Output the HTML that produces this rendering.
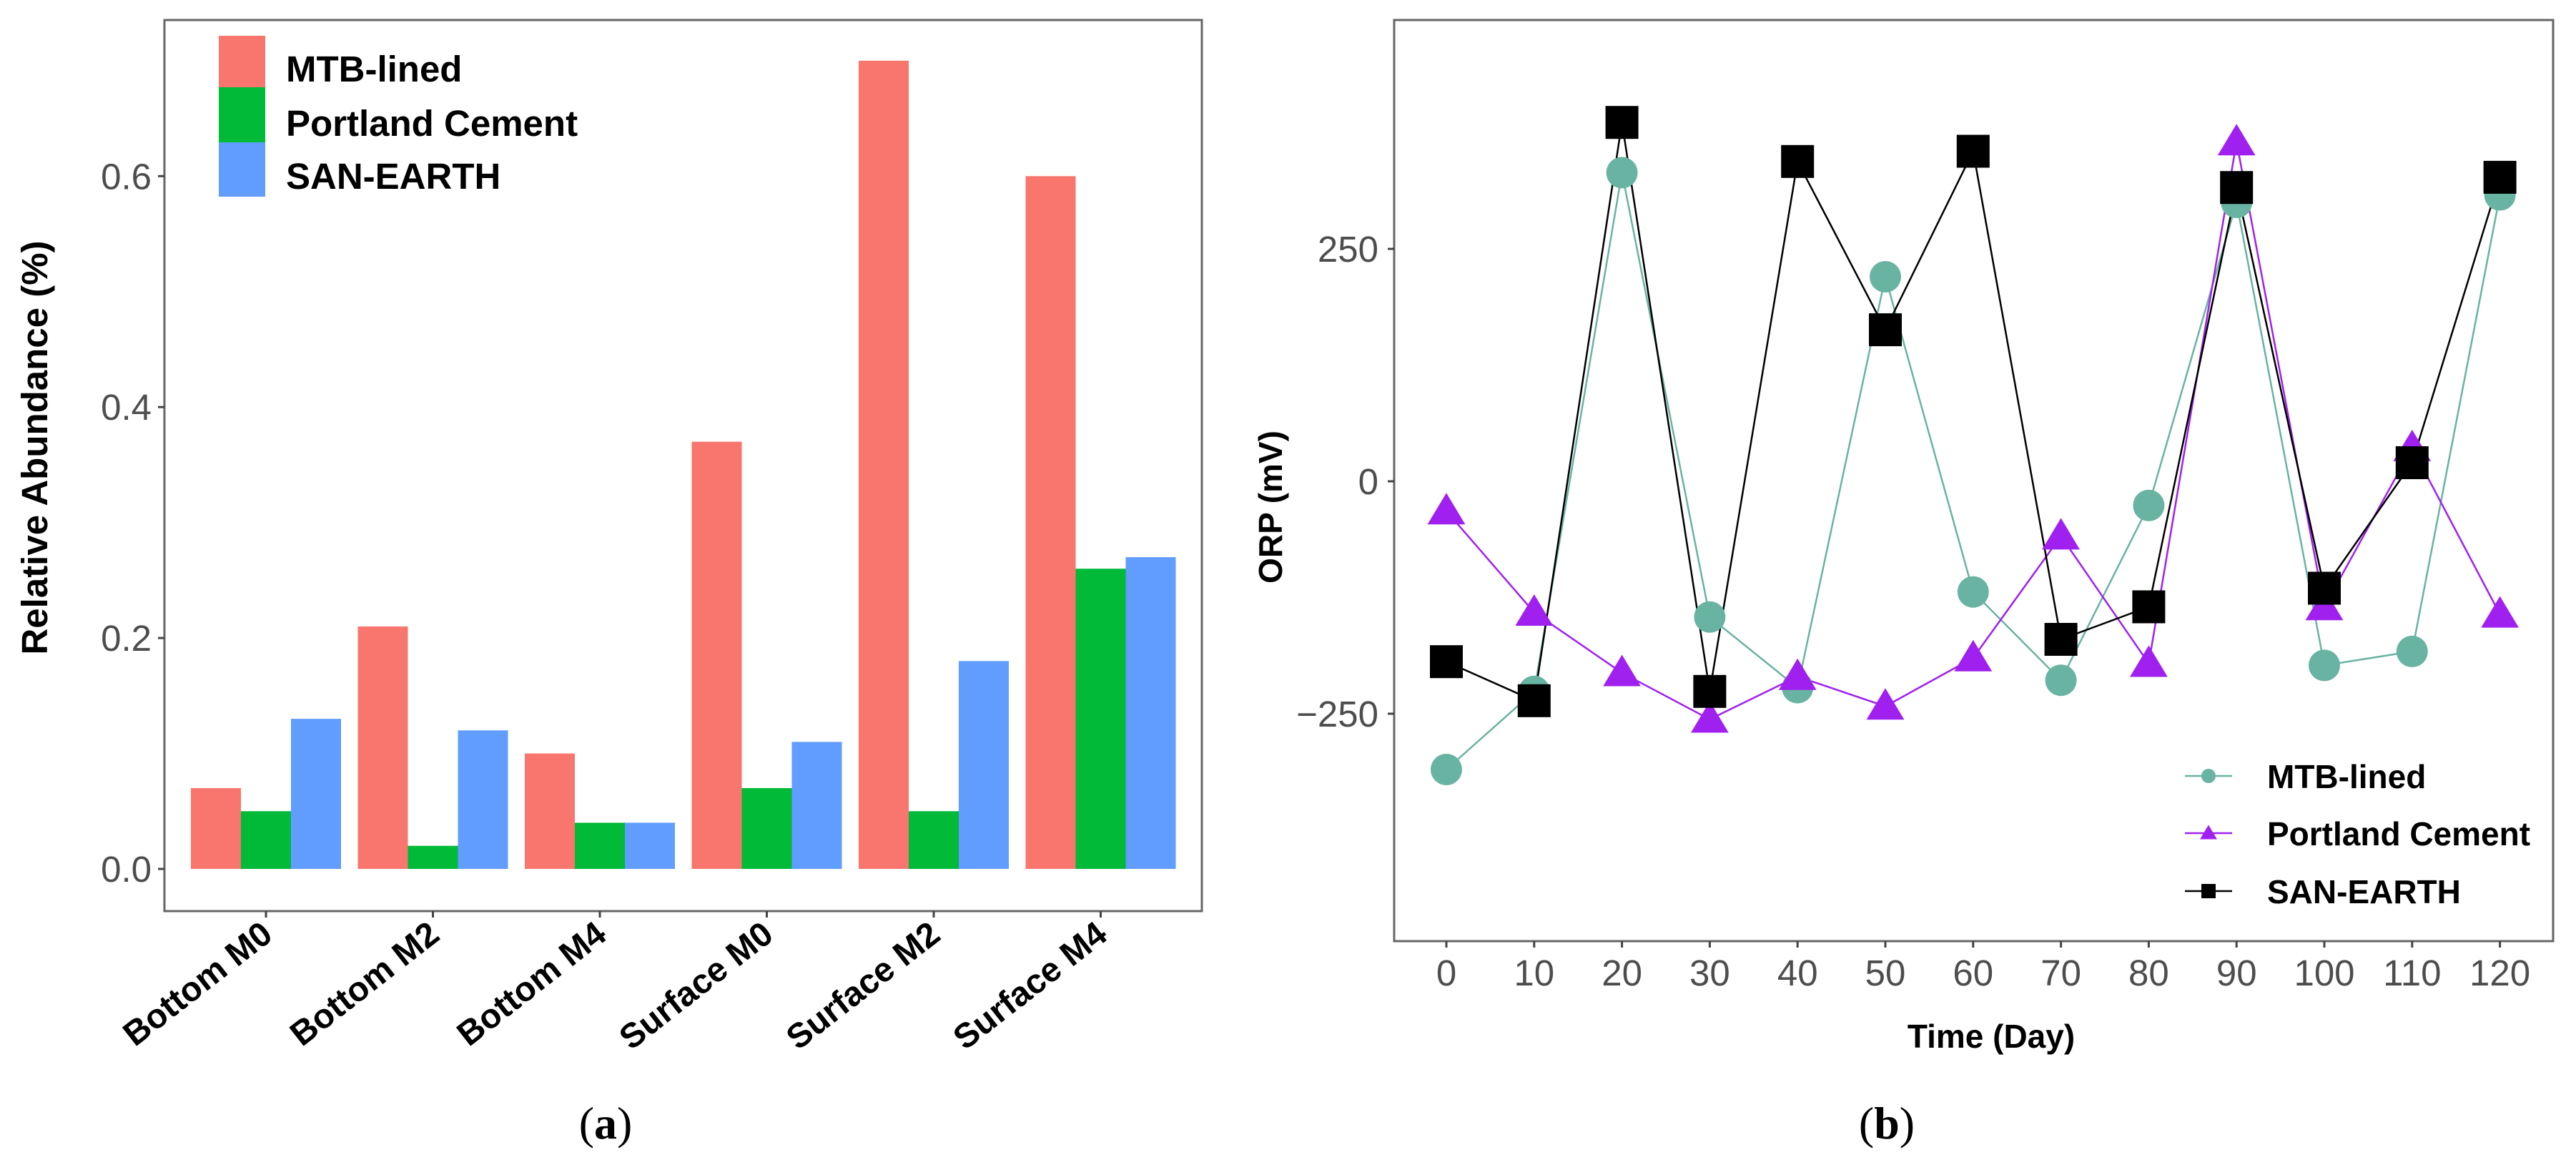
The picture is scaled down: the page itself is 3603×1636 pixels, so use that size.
<!DOCTYPE html>
<html><head><meta charset="utf-8"><style>
html,body{margin:0;padding:0;background:#fff;}
svg{display:block;font-family:"Liberation Sans",Arial,sans-serif;}
</style></head><body>
<svg id="fig" width="3603" height="1636" viewBox="0 0 3603 1636" xmlns="http://www.w3.org/2000/svg">
<g id="left"></g>
<g id="right"></g>
</svg>
<script>
const barCategories = ["Bottom M0","Bottom M2","Bottom M4","Surface M0","Surface M2","Surface M4"];
const barMTB = [0.07,0.21,0.10,0.37,0.70,0.60];
const barPortland = [0.05,0.02,0.04,0.07,0.05,0.26];
const barSan = [0.13,0.12,0.04,0.11,0.18,0.27];
const barYTicks = [0.0,0.2,0.4,0.6];
const seriesNames = ["MTB-lined","Portland Cement","SAN-EARTH"];

const days = [0,10,20,30,40,50,60,70,80,90,100,110,120];
const orpMTB = [-310,-226,332,-146,-222,220,-119,-214,-26,300,-198,-183,308];
const orpPortland = [-32,-141,-206,-256,-210,-242,-190,-59,-196,365,-135,36,-143];
const orpSan = [-194,-236,386,-226,344,163,355,-170,-135,316,-115,20,327];
const orpYTicks = [-250,0,250];

const NS="http://www.w3.org/2000/svg";
function mk(parent, tag, attrs, text){
  const e=document.createElementNS(NS,tag);
  for(const k in attrs) e.setAttribute(k,attrs[k]);
  if(text!==undefined) e.textContent=text;
  parent.appendChild(e); return e;
}
const L=document.getElementById('left');
const R=document.getElementById('right');

/* ---------- left bar chart ---------- */
const lx0=230,lx1=1681,ly0=28,ly1=1274;
const by = v => 1215 - v*1614.5;
const bx = i => 372 + i*233.5;
const barW = 70;
const barColors=["#F8766D","#00BA38","#619CFF"];
const barSeries=[barMTB,barPortland,barSan];
barSeries.forEach((s,si)=>{
  s.forEach((v,i)=>{
    const r=mk(L,'rect',{x:bx(i)-105+si*barW,y:by(v),width:barW,height:by(0)-by(v),fill:barColors[si]});
    
    
  });
});
const lb=mk(L,'rect',{x:lx0,y:ly0,width:lx1-lx0,height:ly1-ly0,fill:'none',stroke:'#666',"stroke-width":3});


barYTicks.forEach(t=>{
  const tk=mk(L,'line',{x1:lx0-9,x2:lx0,y1:by(t),y2:by(t),stroke:'#444',"stroke-width":3});
  
  
  const tl=mk(L,'text',{x:lx0-18,y:by(t)+18,"text-anchor":"end","font-size":51,fill:'#4d4d4d'},t.toFixed(1));
  
  
});
barCategories.forEach((c,i)=>{
  const tk=mk(L,'line',{x1:bx(i),x2:bx(i),y1:ly1,y2:ly1+9,stroke:'#444',"stroke-width":3});
  
  
  const tl=mk(L,'text',{x:0,y:0,"text-anchor":"end","font-size":48,"font-weight":"bold",fill:'#000',transform:`translate(${bx(i)+12},${ly1+38}) rotate(-38)`},c);
  
  
});
const lyt=mk(L,'text',{x:0,y:0,"text-anchor":"middle","font-size":51,"font-weight":"bold",transform:"translate(66,626) rotate(-90)"},"Relative Abundance (%)");


const legYs=[[50,122],[122,199],[199,275]];
const legTxtY=[96,172,246];
seriesNames.forEach((n,i)=>{
  const k=mk(L,'rect',{x:306,y:legYs[i][0],width:65,height:legYs[i][1]-legYs[i][0],fill:barColors[i]});
  
  
  const t=mk(L,'text',{x:400,y:legTxtY[i]+18,"font-size":51,"font-weight":"bold"},n);
  
  
});
const la=mk(L,'text',{x:847,y:1592,"text-anchor":"middle","font-size":64,"font-family":"Liberation Serif, serif"},"");


mk(la,'tspan',{},"(");mk(la,'tspan',{"font-weight":"bold"},"a");mk(la,'tspan',{},")");

/* ---------- right line chart ---------- */
const rx0=1950,rx1=3571,ry0=28,ry1=1316;
const ox = d => 2023 + d*12.28;
const oy = v => 673 - v*1.3;
const rb=mk(R,'rect',{x:rx0,y:ry0,width:rx1-rx0,height:ry1-ry0,fill:'none',stroke:'#666',"stroke-width":3});


orpYTicks.forEach(t=>{
  const tk=mk(R,'line',{x1:rx0-9,x2:rx0,y1:oy(t),y2:oy(t),stroke:'#444',"stroke-width":3});
  
  
  const tl=mk(R,'text',{x:rx0-22,y:oy(t)+18,"text-anchor":"end","font-size":51,fill:'#4d4d4d'},t<0?'\u2212'+(-t):String(t));
  
  
});
days.forEach(d=>{
  const tk=mk(R,'line',{x1:ox(d),x2:ox(d),y1:ry1,y2:ry1+9,stroke:'#444',"stroke-width":3});
  
  
  const tl=mk(R,'text',{x:ox(d),y:1378,"text-anchor":"middle","font-size":51,fill:'#4d4d4d'},String(d));
  
  
});
const xt=mk(R,'text',{x:2785,y:1465,"text-anchor":"middle","font-size":46,"font-weight":"bold"},"Time (Day)");


const yt=mk(R,'text',{x:0,y:0,"text-anchor":"middle","font-size":46,"font-weight":"bold",transform:"translate(1793,709) rotate(-90)"},"ORP (mV)");



const lineColors=["#69b3a2","#a020f0","#000"];
function marker(g,shape,x,y,s,col){
  let m;
  if(shape==='circle') m=mk(g,'circle',{cx:x,cy:y,r:s,fill:col});
  else if(shape==='tri') m=mk(g,'polygon',{points:`${x},${y-s*1.15} ${x-s*1.2},${y+s*0.85} ${x+s*1.2},${y+s*0.85}`,fill:col});
  else m=mk(g,'rect',{x:x-s,y:y-s,width:2*s,height:2*s,fill:col});
  return m;
}
const orpSeries=[orpMTB,orpPortland,orpSan];
const shapes=['circle','tri','square'];
const sizes=[22,22,23];
orpSeries.forEach((s,si)=>{
  const pl=mk(R,'polyline',{points:s.map((v,i)=>ox(days[i])+','+oy(v)).join(' '),fill:'none',stroke:lineColors[si],"stroke-width":2.5});
  
  
});
orpSeries.forEach((s,si)=>{
  s.forEach((v,i)=>{
    const m=marker(R,shapes[si],ox(days[i]),oy(v),sizes[si],lineColors[si]);
    
    
  });
});
const rLegY=[1085,1165,1246];
seriesNames.forEach((n,i)=>{
  const ln=mk(R,'line',{x1:3056,x2:3122,y1:rLegY[i],y2:rLegY[i],stroke:lineColors[i],"stroke-width":2.5});
  
  
  const m=marker(R,shapes[i],3089,rLegY[i],10,lineColors[i]);
  
  
  const t=mk(R,'text',{x:3171,y:rLegY[i]+17,"font-size":46,"font-weight":"bold"},n);
  
  
});
const lbb=mk(R,'text',{x:2639,y:1592,"text-anchor":"middle","font-size":64,"font-family":"Liberation Serif, serif"},"");


mk(lbb,'tspan',{},"(");mk(lbb,'tspan',{"font-weight":"bold"},"b");mk(lbb,'tspan',{},")");
</script>
</body></html>
